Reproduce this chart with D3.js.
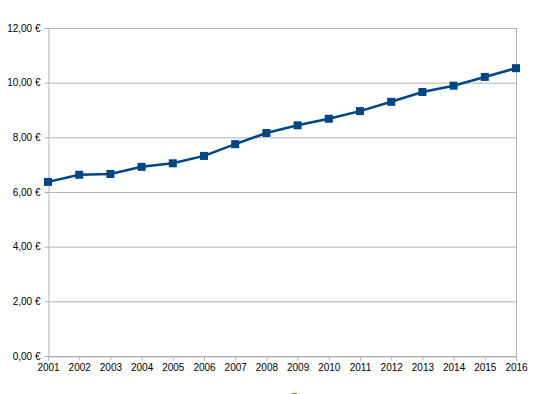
<!DOCTYPE html>
<html>
<head>
<meta charset="utf-8">
<script src="https://cdn.jsdelivr.net/npm/d3@7/dist/d3.min.js"></script>
<style>
	body { margin: 0; background: #fff; }
	svg { display: block; }
	.axis text { font-family: "Liberation Sans", Arial, sans-serif; font-size: 10px; fill: #000; }
</style>
</head>
<body>
<div id="chart"></div>
<script>
var years = ["2001", "2002", "2003", "2004", "2005", "2006", "2007", "2008",
	"2009", "2010", "2011", "2012", "2013", "2014", "2015", "2016"];
var prices = [6.37, 6.63, 6.66, 6.92, 7.05, 7.32, 7.75, 8.16,
	8.44, 8.68, 8.96, 9.30, 9.66, 9.89, 10.21, 10.53];
var yTicks = [0, 2, 4, 6, 8, 10, 12];

var chartWidth = 550, chartHeight = 394;
var plotLeft = 48, plotRight = 516, plotTop = 28, plotBottom = 356;
var lineColor = "#004586";

var svg = d3.select("#chart").append("svg")
	.attr("width", chartWidth).attr("height", chartHeight);

var x = d3.scalePoint().domain(years).range([plotLeft, plotRight]);
var y = d3.scaleLinear().domain([0, 12]).range([plotBottom, plotTop]);

// horizontal grid
svg.append("g")
	.attr("transform", "translate(" + plotLeft + ",0)")
	.call(d3.axisLeft(y).tickValues(yTicks).tickSize(-(plotRight - plotLeft)).tickFormat(""))
	.call(function(g){
		g.select(".domain").remove();
		g.selectAll("line").attr("stroke", "#b3b3b3");
	});

// right border
svg.append("line")
	.attr("x1", plotRight + 0.5).attr("x2", plotRight + 0.5)
	.attr("y1", plotTop).attr("y2", plotBottom)
	.attr("stroke", "#b3b3b3");

// y axis
svg.append("g")
	.attr("class", "axis")
	.attr("transform", "translate(" + (plotLeft + 0.5) + ",0)")
	.call(d3.axisLeft(y).tickValues(yTicks).tickSize(4).tickPadding(4)
		.tickFormat(function(d){ return d3.format(".2f")(d).replace(".", ",") + " €"; }))
	.call(function(g){
		g.select(".domain").attr("stroke", "#b3b3b3");
		g.selectAll(".tick line").attr("stroke", "#b3b3b3");
	});

// x axis
svg.append("g")
	.attr("class", "axis")
	.attr("transform", "translate(0," + (plotBottom + 0.5) + ")")
	.call(d3.axisBottom(x).tickSize(4).tickPadding(3))
	.call(function(g){
		g.select(".domain").attr("stroke", "#b3b3b3");
		g.selectAll(".tick line").attr("stroke", "#b3b3b3");
	});

var line = d3.line()
	.x(function(d, i){ return x(years[i]); })
	.y(function(d){ return y(d); });

svg.append("path")
	.datum(prices)
	.attr("fill", "none")
	.attr("stroke", lineColor)
	.attr("stroke-width", 2.5)
	.attr("d", line);

svg.selectAll("rect.marker")
	.data(prices).enter()
	.append("rect")
	.attr("class", "marker")
	.attr("x", function(d, i){ return x(years[i]) - 4; })
	.attr("y", function(d){ return y(d) - 4; })
	.attr("width", 8).attr("height", 8)
	.attr("fill", lineColor);

// cut-off legend fragment at the bottom
svg.append("line")
	.attr("x1", 292).attr("x2", 297)
	.attr("y1", 393.5).attr("y2", 393.5)
	.attr("stroke", "#579d1c").attr("stroke-width", 1);
</script>
</body>
</html>
